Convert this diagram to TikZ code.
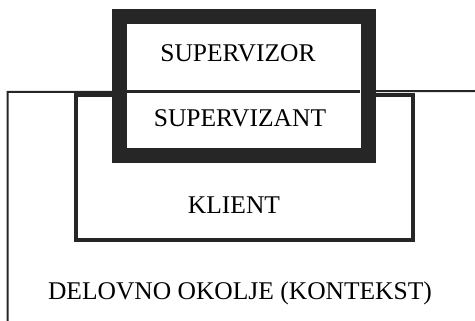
\documentclass[tikz,border=0pt]{standalone}
\usepackage{fontspec}
\setmainfont{Liberation Serif}

\begin{document}
\begin{tikzpicture}[x=1pt, y=-1pt,
    thin line/.style={draw=black!85, line width=2pt},
    box line/.style={draw=black!85, line width=3.5pt},
    label text/.style={font=\fontsize{25.5}{30}\selectfont, inner sep=0pt}]
    \useasboundingbox (0,0) rectangle (475,321);
    % context
    \coordinate (ctxbl) at (7.5,321);
    \coordinate (ctxtl) at (7.5,92);
    \coordinate (ctxtr) at (475,91);
    \draw[thin line, line join=miter] (ctxbl) -- (ctxtl) -- (ctxtr);
    % client
    \draw[box line] (76,95) rectangle (413,240);
    % supervision pair
    \draw[draw=black!85, fill=white, line width=15pt] (119.5,16.5) rectangle (368,156);
    \coordinate (divl) at (127,92);
    \coordinate (divr) at (360,92);
    \draw[box line, line width=3pt] (divl) -- (divr);
    \node[label text] (supervizor) at (238,53) {SUPERVIZOR};
    \node[label text] (supervizant) at (240,118) {SUPERVIZANT};
    \node[label text] (klient) at (234,205) {KLIENT};
    \node[label text] (kontekst) at (240,293) {DELOVNO OKOLJE (KONTEKST)};
\end{tikzpicture}
\end{document}
